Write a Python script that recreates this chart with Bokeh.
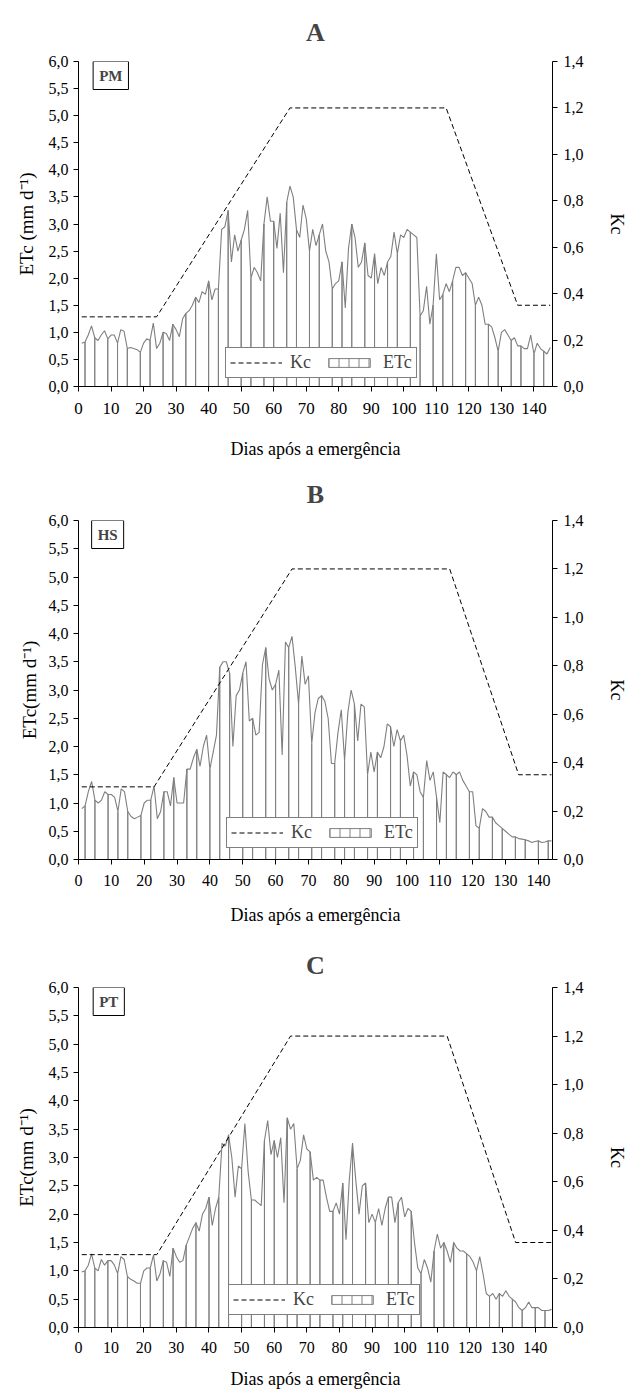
import numpy as np
from bokeh.plotting import figure
from bokeh.models import (Range1d, LinearAxis, FixedTicker, CustomJSTickFormatter,
                          Legend, LegendItem, Label)
from bokeh.layouts import column
from bokeh.embed import file_html
from bokeh.resources import INLINE

FONT = "Liberation Serif"
GRAY = "#7f7f7f"

# ---------------- data ----------------
etc_pm = [0.80, 0.82, 0.95, 1.12, 0.90, 0.85, 0.95, 1.03, 0.88, 0.95,
          0.95, 0.80, 1.05, 1.02, 0.70, 0.72, 0.70, 0.68, 0.63, 0.80,
          0.88, 0.85, 1.17, 0.70, 0.80, 1.00, 0.98, 0.85, 1.15, 1.05,
          0.92, 1.25, 1.35, 1.40, 1.50, 1.65, 1.55, 1.75, 1.70, 1.95,
          1.60, 1.80, 1.80, 2.90, 2.95, 3.25, 2.30, 2.80, 2.50, 2.70,
          2.90, 3.25, 2.00, 2.20, 2.10, 1.95, 3.00, 3.50, 3.05, 3.05,
          2.55, 3.20, 2.10, 3.40, 3.70, 3.50, 2.90, 2.75, 3.35, 3.10,
          2.50, 2.90, 2.60, 2.80, 3.00, 2.50, 2.30, 1.80, 1.90, 1.95,
          2.30, 1.45, 2.55, 3.00, 2.75, 2.20, 2.30, 2.65, 2.05, 2.00,
          2.45, 1.90, 2.20, 2.05, 2.30, 2.40, 2.85, 2.45, 2.80, 2.75,
          2.90, 2.85, 2.80, 2.75, 1.30, 1.40, 1.85, 1.15, 1.50, 2.45,
          1.60, 1.70, 1.90, 1.75, 1.95, 2.20, 2.20, 2.05, 2.10, 2.00,
          1.90, 1.50, 1.65, 1.50, 1.15, 1.15, 1.10, 0.90, 0.65, 1.00,
          1.05, 0.95, 0.85, 0.90, 0.75, 0.75, 0.70, 0.70, 0.95, 0.60,
          0.80, 0.70, 0.65, 0.60, 0.72]

etc_hs = [0.90, 0.95, 1.20, 1.38, 1.05, 1.00, 1.05, 1.20, 1.15, 1.15,
          1.10, 0.85, 1.25, 1.20, 0.85, 0.76, 0.72, 0.75, 0.78, 1.00,
          1.05, 1.05, 1.30, 0.72, 0.85, 1.20, 1.20, 0.95, 1.45, 1.00,
          1.00, 1.00, 1.60, 1.60, 1.80, 1.95, 1.65, 2.00, 2.20, 1.60,
          1.90, 2.20, 3.40, 3.50, 3.50, 3.30, 2.00, 2.90, 3.00, 3.30,
          3.50, 2.45, 2.50, 2.20, 2.25, 3.45, 3.75, 3.20, 3.00, 3.10,
          3.35, 1.85, 3.85, 3.75, 3.95, 3.40, 2.75, 3.60, 3.10, 3.25,
          2.05, 2.60, 2.85, 2.90, 2.80, 2.50, 1.70, 1.70, 2.25, 2.65,
          1.75, 2.60, 3.00, 2.75, 2.10, 2.75, 2.70, 1.50, 1.90, 1.55,
          1.90, 1.80, 2.00, 2.40, 2.35, 2.00, 2.30, 2.10, 2.20, 1.85,
          1.30, 1.55, 1.50, 1.20, 1.10, 1.75, 1.40, 1.55, 1.10, 0.65,
          1.55, 1.50, 1.45, 1.55, 1.50, 1.55, 1.40, 1.30, 1.20, 1.20,
          0.60, 0.55, 0.90, 0.85, 0.75, 0.75, 0.65, 0.60, 0.55, 0.50,
          0.45, 0.40, 0.40, 0.37, 0.36, 0.35, 0.33, 0.30, 0.32, 0.33,
          0.30, 0.31, 0.33, 0.33]

etc_pt = [0.98, 1.00, 1.10, 1.30, 1.05, 1.00, 1.20, 1.10, 1.18, 1.18,
          1.10, 0.95, 1.25, 1.20, 0.90, 0.85, 0.82, 0.78, 0.78, 1.00,
          1.05, 1.05, 1.28, 0.82, 0.95, 1.18, 1.15, 0.90, 1.40, 1.25,
          1.15, 1.18, 1.45, 1.60, 1.75, 1.85, 1.70, 2.00, 2.10, 2.30,
          1.80, 2.10, 2.30, 3.25, 3.20, 3.40, 3.00, 2.30, 2.85, 2.80,
          3.60, 2.75, 2.25, 2.25, 2.20, 2.15, 3.30, 3.65, 3.05, 3.30,
          3.00, 3.35, 2.20, 3.70, 3.50, 3.60, 2.80, 2.95, 3.40, 3.15,
          3.10, 2.60, 2.65, 2.60, 2.60, 2.30, 2.05, 2.05, 2.20, 2.00,
          2.55, 1.55, 2.60, 3.25, 2.60, 2.00, 2.50, 2.55, 1.85, 2.00,
          1.85, 2.10, 1.80, 2.10, 2.30, 2.30, 1.85, 2.20, 2.30, 1.95,
          2.10, 2.05, 1.50, 1.05, 0.95, 1.20, 1.05, 0.80, 1.35, 1.65,
          1.40, 1.50, 1.35, 1.15, 1.50, 1.40, 1.35, 1.35, 1.30, 1.25,
          1.15, 1.00, 1.25, 0.95, 0.60, 0.55, 0.60, 0.50, 0.60, 0.55,
          0.65, 0.55, 0.50, 0.45, 0.35, 0.30, 0.35, 0.45, 0.35, 0.35,
          0.35, 0.30, 0.30, 0.30, 0.32]

kc_days_pm = [1, 24, 65, 113, 135, 145]
kc_days_hs = [1, 23, 65, 113, 134, 144]
kc_days_pt = [1, 24, 65, 113, 134, 145]
kc_values = [0.30, 0.30, 1.20, 1.20, 0.35, 0.35]

x_ticks = list(range(0, 150, 10))
etc_ticks = [0.0, 0.5, 1.0, 1.5, 2.0, 2.5, 3.0, 3.5, 4.0, 4.5, 5.0, 5.5, 6.0]
kc_ticks = [0.0, 0.2, 0.4, 0.6, 0.8, 1.0, 1.2, 1.4]

PAGE_W = 629
comma_fmt = "return tick.toFixed(1).replace('.', ',');"


def style_axis(ax, size="16px", label_size="18px"):
    ax.axis_line_color = "black"
    ax.major_tick_line_color = "black"
    ax.minor_tick_line_color = None
    ax.major_tick_out = 5
    ax.major_tick_in = 0
    ax.major_label_text_font = FONT
    ax.major_label_text_font_size = size
    ax.major_label_text_color = "black"
    ax.axis_label_text_font = FONT
    ax.axis_label_text_font_size = label_size
    ax.axis_label_text_font_style = "normal"
    ax.axis_label_text_color = "black"


def make_panel(letter, tag, etc, kc_days, ylab, g):
    etc = np.array(etc)
    n = len(etc)
    days = np.arange(1, n + 1)
    height = g["fig_bottom"] - g["fig_top"]
    p = figure(width=PAGE_W, height=height,
               x_range=Range1d(0, g["xmax"]), y_range=Range1d(0, 6),
               output_backend="svg", toolbar_location=None,
               min_border_left=g["fl"], min_border_right=PAGE_W - g["fr"],
               min_border_top=g["ft"] - g["fig_top"],
               min_border_bottom=g["fig_bottom"] - g["fb"],
               title=letter)
    p.extra_y_ranges = {"kc": Range1d(0, 1.4)}
    p.outline_line_color = None
    p.xgrid.visible = False
    p.ygrid.visible = False
    p.background_fill_color = "white"
    p.border_fill_color = "white"

    p.title.align = "center"
    p.title.text_font = FONT
    p.title.text_font_size = "26px"
    p.title.text_font_style = "bold"
    p.title.standoff = g["title_standoff"]

    # vertical bar outlines (rendered sparsely, as in the original picture)
    pos = np.arange(1.6, n + 0.5, 3.45)
    sub_days = np.unique(np.clip(np.round(pos).astype(int), 1, n))
    sub_vals = etc[sub_days - 1]
    bars = p.vbar(x=sub_days, top=sub_vals, bottom=0, width=0.001,
                  fill_color=None, line_color=GRAY, line_width=1,
                  hatch_pattern="|", hatch_color=GRAY, hatch_scale=10, hatch_weight=1)
    # top profile of the daily columns
    p.line(days, etc, line_color=GRAY, line_width=1.1)
    # Kc
    kc = p.line(kc_days, kc_values, y_range_name="kc", line_color="black",
                line_width=1, line_dash="5 3")

    # axes
    xa = p.xaxis[0]
    xa.ticker = FixedTicker(ticks=x_ticks)
    xa.axis_label = "Dias após a emergência"
    style_axis(xa, g["xtick_size"])
    xa.major_label_standoff = g["xtick_standoff"]
    xa.axis_label_standoff = g["xlab_standoff"]

    ya = p.yaxis[0]
    ya.ticker = FixedTicker(ticks=etc_ticks)
    ya.formatter = CustomJSTickFormatter(code=comma_fmt)
    ya.axis_label = ylab
    style_axis(ya, label_size="19px")
    ya.major_label_standoff = 5
    ya.axis_label_standoff = g["ylab_standoff"]

    ra = LinearAxis(y_range_name="kc", ticker=FixedTicker(ticks=kc_ticks),
                    formatter=CustomJSTickFormatter(code=comma_fmt), axis_label="Kc")
    style_axis(ra)
    ra.major_label_standoff = 6
    ra.axis_label_standoff = 20
    p.add_layout(ra, "right")

    legend = Legend(items=[LegendItem(label="Kc", renderers=[kc]),
                           LegendItem(label="ETc", renderers=[bars])],
                    orientation="horizontal", location=g["legend_loc"],
                    border_line_color="black", border_line_width=1,
                    background_fill_color="white", background_fill_alpha=1,
                    label_text_font=FONT, label_text_font_size="18px",
                    label_height=17, glyph_width=52, glyph_height=11,
                    padding=4, spacing=12, label_standoff=8, margin=0)
    p.add_layout(legend)

    # series tag box
    p.add_layout(Label(x=g["tag_x"], y=6.0, text=tag, text_font=FONT,
                       text_font_size="15px", text_font_style="bold",
                       text_align="left", text_baseline="top",
                       border_line_color="black", border_line_width=1,
                       background_fill_color="white", padding=6))
    return p


geo_a = dict(fig_top=0, fig_bottom=466, fl=78, fr=553, ft=61, fb=386, xmax=145.7,
             title_standoff=30, xtick_size="17px", xtick_standoff=11, xlab_standoff=22,
             ylab_standoff=9, legend_loc=(147, 8), tag_x=4.5)
geo_b = dict(fig_top=466, fig_bottom=933, fl=70, fr=553, ft=520, fb=859, xmax=144.3,
             title_standoff=23, xtick_size="16px", xtick_standoff=10, xlab_standoff=16,
             ylab_standoff=6, legend_loc=(148, 11), tag_x=4.0)
geo_c = dict(fig_top=933, fig_bottom=1392, fl=72, fr=557, ft=987, fb=1327, xmax=145.3,
             title_standoff=16, xtick_size="16px", xtick_standoff=9, xlab_standoff=13,
             ylab_standoff=9, legend_loc=(150, 12), tag_x=4.5)

pa = make_panel("A", "PM", etc_pm, kc_days_pm, "ETc (mm d⁻¹)", geo_a)
pb = make_panel("B", "HS", etc_hs, kc_days_hs, "ETc(mm d⁻¹)", geo_b)
pc = make_panel("C", "PT", etc_pt, kc_days_pt, "ETc(mm d⁻¹)", geo_c)

layout = column(pa, pb, pc, spacing=0)
open("out.html", "w").write(file_html(layout, INLINE))
